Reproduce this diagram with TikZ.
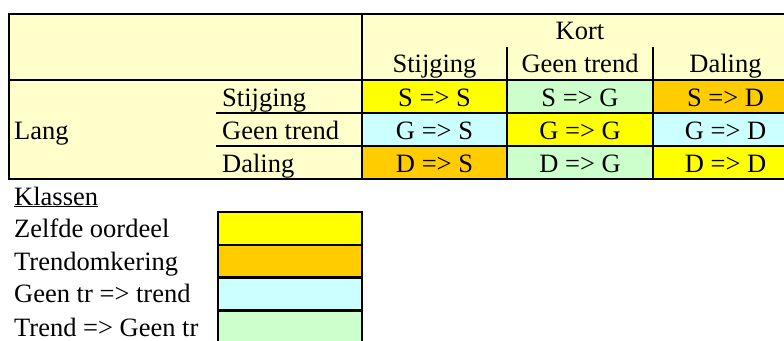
\documentclass[tikz,border=0pt]{standalone}
\usepackage{fontspec}
\setmainfont{Liberation Serif}
\definecolor{hdr}{HTML}{FFFFCC}
\definecolor{zelf}{HTML}{FFFF00}
\definecolor{omk}{HTML}{FFCC00}
\definecolor{lcyan}{HTML}{CCFFFF}
\definecolor{lgreen}{HTML}{CCFFCC}
\begin{document}
\begin{tikzpicture}[x=1pt,y=-1pt,
  grid/.style={line width=2.9pt, line cap=rect},
  txt/.style={anchor=base, inner sep=0pt, font=\fontsize{26.5}{30}\selectfont},
  ltxt/.style={txt, anchor=base west},
  legbox/.style={line width=2.9pt}]
\useasboundingbox (0,0) rectangle (784,340);
\clip (0,0) rectangle (784,340);
% backgrounds
\fill[hdr] (9,14) rectangle (800,80);
\fill[hdr] (9,80) rectangle (362,179);
% cells
\fill[zelf]   (362,80)  rectangle (507,113);
\fill[lgreen] (507,80)  rectangle (653,113);
\fill[omk]    (653,80)  rectangle (800,113);
\fill[lcyan]  (362,113) rectangle (507,146);
\fill[zelf]   (507,113) rectangle (653,146);
\fill[lcyan]  (653,113) rectangle (800,146);
\fill[omk]    (362,146) rectangle (507,179);
\fill[lgreen] (507,146) rectangle (653,179);
\fill[zelf]   (653,146) rectangle (800,179);
% grid lines
\draw[grid] (9,14) -- (800,14);
\draw[grid] (9,14) -- (9,179);
\draw[grid] (9,179) -- (800,179);
\draw[grid] (9,80) -- (800,80);
\draw[grid] (217,113) -- (800,113);
\draw[grid] (217,146) -- (800,146);
\draw[grid] (362,14) -- (362,179);
\draw[grid] (507,48) -- (507,179);
\draw[grid] (653,48) -- (653,179);
% header texts
\node[txt] (kort) at (580,39.5) {Kort};
\node[txt] (hS) at (434.5,72) {Stijging};
\node[txt] (hG) at (580,72) {Geen trend};
\node[txt] (hD) at (725.5,72) {Daling};
% row labels
\node[ltxt] (lang) at (14,139) {Lang};
\node[ltxt] (rS) at (222,106) {Stijging};
\node[ltxt] (rG) at (222,139) {Geen trend};
\node[ltxt] (rD) at (222,172) {Daling};
% cell texts
\node[txt] (c11) at (434.5,106) {S => S};
\node[txt] (c12) at (580,106) {S => G};
\node[txt] (c13) at (725.5,106) {S => D};
\node[txt] (c21) at (434.5,139) {G => S};
\node[txt] (c22) at (580,139) {G => G};
\node[txt] (c23) at (725.5,139) {G => D};
\node[txt] (c31) at (434.5,172) {D => S};
\node[txt] (c32) at (580,172) {D => G};
\node[txt] (c33) at (725.5,172) {D => D};
% legend
\node[ltxt] (klassen) at (14,205) {\underline{Klassen}};
\node[ltxt] (l1) at (14,237) {Zelfde oordeel};
\node[ltxt] (l2) at (14,270) {Trendomkering};
\node[ltxt] (l3) at (14,302.5) {Geen tr => trend};
\node[ltxt] (l4) at (14,336) {Trend => Geen tr};
\filldraw[legbox, fill=zelf]   (218,212) rectangle (362,245);
\filldraw[legbox, fill=omk]    (218,245) rectangle (362,277.5);
\filldraw[legbox, fill=lcyan]  (218,277.5) rectangle (362,310.5);
\filldraw[legbox, fill=lgreen] (218,310.5) rectangle (362,350);
\end{tikzpicture}
\end{document}
